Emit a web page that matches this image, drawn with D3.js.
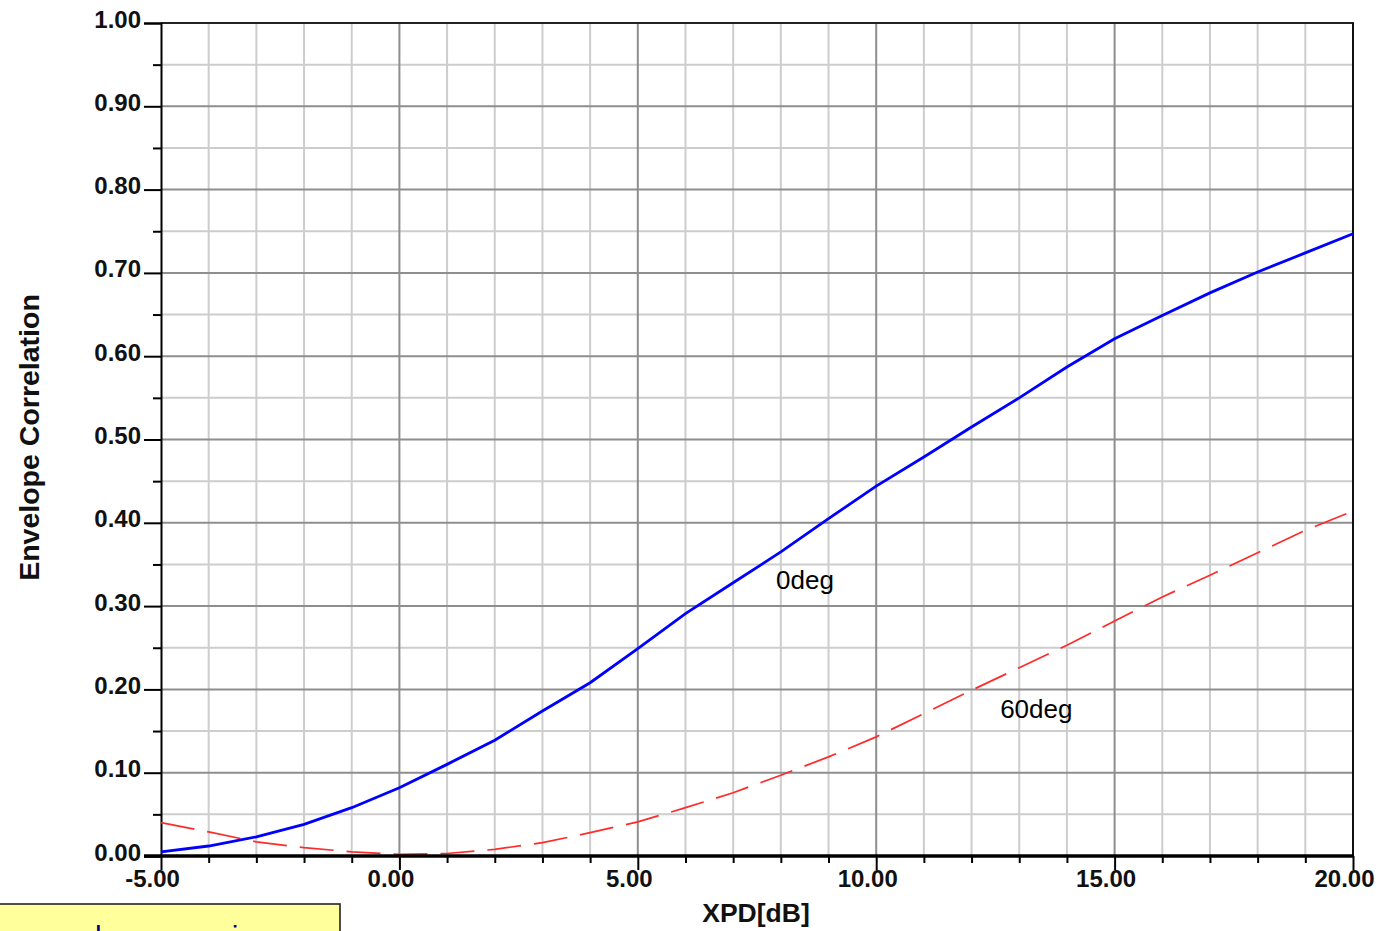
<!DOCTYPE html>
<html>
<head>
<meta charset="utf-8">
<script src="https://cdn.jsdelivr.net/npm/d3@7"></script>
<style>
  html, body { margin: 0; padding: 0; background: #ffffff; }
  svg { display: block; font-family: "Liberation Sans", Arial, sans-serif; }
</style>
</head>
<body>
<svg id="chart" width="1385" height="931"></svg>
<script>
// XPD sweep (dB)
const xpd = [-5, -4, -3, -2, -1, 0, 1, 2, 3, 4, 5, 6, 7, 8, 9, 10, 11, 12, 13, 14, 15, 16, 17, 18, 19, 20];
// Envelope correlation, 0 deg slant
const corr0deg = [0.005, 0.012, 0.023, 0.038, 0.058, 0.082, 0.110, 0.139, 0.174, 0.208, 0.249, 0.291, 0.328,
                  0.365, 0.405, 0.444, 0.479, 0.515, 0.550, 0.587, 0.621, 0.649, 0.676, 0.701, 0.724, 0.747];
// Envelope correlation, 60 deg slant
const corr60deg = [0.040, 0.029, 0.017, 0.010, 0.005, 0.002, 0.003, 0.008, 0.016, 0.028, 0.041, 0.058, 0.076,
                   0.097, 0.119, 0.143, 0.171, 0.199, 0.226, 0.253, 0.282, 0.311, 0.337, 0.364, 0.391, 0.414];

const xMajorTicks = [-5, 0, 5, 10, 15, 20];
const xMinorTicks = [-4, -3, -2, -1, 1, 2, 3, 4, 6, 7, 8, 9, 11, 12, 13, 14, 16, 17, 18, 19];
const yMajorTicks = [0, 0.1, 0.2, 0.3, 0.4, 0.5, 0.6, 0.7, 0.8, 0.9, 1.0];
const yMinorTicks = [0.05, 0.15, 0.25, 0.35, 0.45, 0.55, 0.65, 0.75, 0.85, 0.95];

const curveLabels = [
  { text: "0deg", x: 7.9, y: 0.32 },
  { text: "60deg", x: 12.6, y: 0.166 }
];

const svg = d3.select("#chart");

const x = d3.scaleLinear().domain([-5, 20]).range([161, 1353]);
const y = d3.scaleLinear().domain([0, 1]).range([856, 23]);
const fmt = d => d.toFixed(2);

// grid
const grid = svg.append("g");
grid.selectAll("line.vminor").data(xMinorTicks).join("line")
  .attr("x1", d => x(d)).attr("x2", d => x(d))
  .attr("y1", y(1)).attr("y2", y(0))
  .attr("stroke", "#cdcdcd").attr("stroke-width", 2);
grid.selectAll("line.hminor").data(yMinorTicks).join("line")
  .attr("x1", x(-5)).attr("x2", x(20))
  .attr("y1", d => y(d)).attr("y2", d => y(d))
  .attr("stroke", "#cdcdcd").attr("stroke-width", 2);
grid.selectAll("line.vmajor").data(xMajorTicks.slice(1, -1)).join("line")
  .attr("x1", d => x(d)).attr("x2", d => x(d))
  .attr("y1", y(1)).attr("y2", y(0))
  .attr("stroke", "#8e8e8e").attr("stroke-width", 2);
grid.selectAll("line.hmajor").data(yMajorTicks.slice(1, -1)).join("line")
  .attr("x1", x(-5)).attr("x2", x(20))
  .attr("y1", d => y(d)).attr("y2", d => y(d))
  .attr("stroke", "#8e8e8e").attr("stroke-width", 2);

// frame: top and right
svg.append("line").attr("x1", x(-5)).attr("x2", x(20) + 1).attr("y1", y(1)).attr("y2", y(1))
  .attr("stroke", "#222").attr("stroke-width", 2);
svg.append("line").attr("x1", x(20)).attr("x2", x(20)).attr("y1", y(1)).attr("y2", y(0))
  .attr("stroke", "#111").attr("stroke-width", 2);

// y axis
const yAxis = svg.append("g").attr("transform", `translate(${x(-5)},0)`)
  .call(d3.axisLeft(y).tickValues(yMajorTicks).tickSize(17).tickFormat(fmt));
yAxis.select(".domain").attr("stroke", "#000").attr("stroke-width", 2);
yAxis.selectAll(".tick line").attr("stroke", "#000").attr("stroke-width", 2);
yAxis.selectAll(".tick text")
  .attr("x", -20).attr("dy", null).attr("y", 4)
  .attr("font-size", 24).attr("font-weight", "bold").attr("fill", "#111")
  .attr("font-family", "Liberation Sans, Arial, sans-serif");
const yMinor = svg.append("g").attr("transform", `translate(${x(-5)},0)`)
  .call(d3.axisLeft(y).tickValues(yMinorTicks).tickSize(8).tickFormat(""));
yMinor.select(".domain").remove();
yMinor.selectAll(".tick line").attr("stroke", "#000").attr("stroke-width", 2);

// x axis
const xAxis = svg.append("g").attr("transform", `translate(0,${y(0)})`)
  .call(d3.axisBottom(x).tickValues(xMajorTicks).tickSize(14).tickFormat(fmt));
xAxis.select(".domain").remove();
xAxis.selectAll(".tick line").attr("stroke", "#000").attr("stroke-width", 2);
xAxis.selectAll(".tick text")
  .attr("y", 31).attr("dy", null).attr("x", -9)
  .attr("font-size", 24).attr("font-weight", "bold").attr("fill", "#111")
  .attr("font-family", "Liberation Sans, Arial, sans-serif");
const xMinor = svg.append("g").attr("transform", `translate(0,${y(0)})`)
  .call(d3.axisBottom(x).tickValues(xMinorTicks).tickSize(7).tickFormat(""));
xMinor.select(".domain").remove();
xMinor.selectAll(".tick line").attr("stroke", "#000").attr("stroke-width", 2);

// series
const line0 = d3.line().x((d, i) => x(xpd[i])).y(d => y(d));
svg.append("path").datum(corr60deg)
  .attr("d", line0).attr("fill", "none")
  .attr("stroke", "#ff2a2a").attr("stroke-width", 1.7)
  .attr("stroke-dasharray", "34,13");
svg.append("path").datum(corr0deg)
  .attr("d", line0).attr("fill", "none")
  .attr("stroke", "#0000ff").attr("stroke-width", 2.8);

// baseline axis drawn above the curves
svg.append("line").attr("x1", x(-5) - 17).attr("x2", x(20) + 1).attr("y1", y(0)).attr("y2", y(0))
  .attr("stroke", "#000").attr("stroke-width", 3.5);

// curve labels
svg.selectAll("text.curve").data(curveLabels).join("text")
  .attr("class", "curve")
  .attr("x", d => x(d.x)).attr("y", d => y(d.y))
  .attr("font-size", 26).attr("fill", "#000")
  .text(d => d.text);

// axis titles
svg.append("text")
  .attr("x", (x(-5) + x(20)) / 2 - 1).attr("y", 922)
  .attr("text-anchor", "middle").attr("font-size", 26.5).attr("font-weight", "bold").attr("fill", "#111")
  .text("XPD[dB]");
svg.append("text")
  .attr("transform", `translate(39,${(y(0) + y(1)) / 2 - 2}) rotate(-90)`)
  .attr("text-anchor", "middle").attr("font-size", 28.5).attr("font-weight", "bold").attr("fill", "#111")
  .text("Envelope Correlation");

// note box at the lower left (its text runs below the page edge)
const note = svg.append("g");
note.append("clipPath").attr("id", "noteClip")
  .append("rect").attr("x", 0).attr("y", 905).attr("width", 338).attr("height", 60);
note.append("rect").attr("x", -2).attr("y", 904).attr("width", 342).attr("height", 60)
  .attr("fill", "#ffff9c").attr("stroke", "#222").attr("stroke-width", 1.6);
note.append("text").attr("clip-path", "url(#noteClip)")
  .attr("x", 10).attr("y", 947)
  .attr("font-size", 30).attr("fill", "#000080")
  .text("normal, so even in a narrow cell");
</script>
</body>
</html>
